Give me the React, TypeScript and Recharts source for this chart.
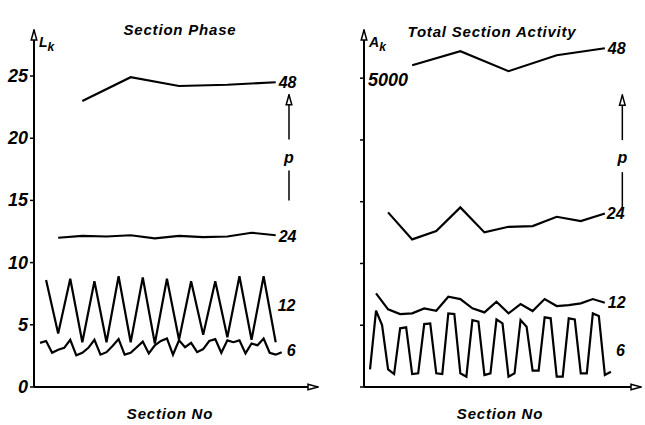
import React from "react";
import { LineChart, Line, XAxis, YAxis, ReferenceLine, ReferenceDot } from "recharts";

// section numbers at which each curve is sampled
const sections48 = [8, 16, 24, 32, 40];
const sections24 = [4, 8, 12, 16, 20, 24, 28, 32, 36, 40];
const sections12 = [2, 4, 6, 8, 10, 12, 14, 16, 18, 20, 22, 24, 26, 28, 30, 32, 34, 36, 38, 40];
const sections6 = [
  1, 2, 3, 4, 5, 6, 7, 8, 9, 10, 11, 12, 13, 14, 15, 16, 17, 18, 19, 20, 21,
  22, 23, 24, 25, 26, 27, 28, 29, 30, 31, 32, 33, 34, 35, 36, 37, 38, 39, 40, 41,
];

// Section Phase L_k
const phase48 = [23.0, 24.9, 24.2, 24.3, 24.5];
const phase24 = [12.0, 12.15, 12.1, 12.2, 11.95, 12.15, 12.05, 12.1, 12.4, 12.2];
const phase12 = [8.6, 4.3, 8.7, 3.6, 8.5, 3.6, 8.9, 3.6, 8.8, 3.5, 8.7, 3.8, 8.5, 4.2, 8.5, 4.0, 8.9, 3.8, 8.9, 3.6];
const phase6 = [
  3.55, 3.7, 2.75, 3.0, 3.15, 3.8, 2.55, 2.75, 3.15, 3.8, 2.6, 2.8, 3.3, 3.85, 2.6, 2.75, 3.2, 3.65, 2.7, 3.35, 3.7,
  3.9, 2.6, 3.75, 3.2, 3.55, 2.8, 3.05, 3.7, 3.85, 2.75, 3.75, 3.6, 3.75, 2.7, 3.5, 3.35, 3.9, 2.75, 2.6, 2.8,
];

// Total Section Activity A_k
const activity48 = [5210, 5437, 5113, 5372, 5485];
const activity24 = [2827, 2390, 2524, 2908, 2503, 2594, 2605, 2756, 2686, 2810];
const activity12 = [1516, 1257, 1181, 1192, 1273, 1235, 1461, 1424, 1273, 1208, 1380, 1192, 1343, 1230, 1424, 1311, 1327, 1354, 1424, 1364];
const activity6 = [
  286, 1235, 1003, 286, 210, 950, 966, 210, 222, 1019, 1030, 222, 210, 1192, 1181, 222, 167, 1084, 1057, 194, 222,
  1095, 1030, 167, 222, 1084, 976, 264, 264, 1128, 1112, 167, 167, 1112, 1095, 222, 222, 1192, 1149, 194, 248,
];

const phaseTicks = [0, 5, 10, 15, 20, 25];
const activityTicks = [0, 1000, 2000, 3000, 4000, 5000];

const FONT = "'Liberation Sans', Arial, sans-serif";

const toPoints = (xs: number[], ys: number[]) => xs.map((x, i) => ({ section: x, value: ys[i] }));

type Series = { name: string; data: { section: number; value: number }[]; dx: number; dy: number };

const endLabel = (s: Series) => (props: any) => {
  const { x, y, index } = props;
  if (index !== s.data.length - 1) return null;
  return (
    <text
      x={x + s.dx}
      y={y + s.dy}
      fontFamily={FONT}
      fontStyle="italic"
      fontWeight="bold"
      fontSize={16}
      fill="#000"
      dominantBaseline="central"
    >
      {s.name}
    </text>
  );
};

type PanelProps = {
  id: string;
  left: number;
  width: number;
  plotWidth: number;
  yAxisWidth: number;
  xMax: number;
  yMax: number;
  ticks: number[];
  tick: any;
  letter: string;
  series: Series[];
  pX: number;
  pArrow: [number, number];
  pText: number;
  pLine: [number, number];
};

const Panel = (p: PanelProps) => (
  <div style={{ position: "absolute", left: p.left, top: 0 }}>
    <LineChart width={p.width} height={425} margin={{ top: 30, right: p.width - p.yAxisWidth - p.plotWidth, left: 0, bottom: 36 }}>
      <defs>
        <marker
          id={`arr-${p.id}`}
          viewBox="0 0 12 8"
          refX="11"
          refY="4"
          markerWidth="12"
          markerHeight="8"
          markerUnits="userSpaceOnUse"
          orient="auto-start-reverse"
        >
          <path d="M1,1.2 L11,4 L1,6.8 Z" fill="#fff" stroke="#000" strokeWidth={1.5} />
        </marker>
      </defs>
      <XAxis
        dataKey="section"
        type="number"
        domain={[0, p.xMax]}
        allowDataOverflow
        tick={false}
        tickLine={false}
        height={2}
        axisLine={{ stroke: "#000", strokeWidth: 2, markerEnd: `url(#arr-${p.id})` }}
      />
      <YAxis
        type="number"
        domain={[0, p.yMax]}
        allowDataOverflow
        ticks={p.ticks}
        interval={0}
        width={p.yAxisWidth}
        tickSize={4}
        tickMargin={2}
        tick={p.tick}
        tickLine={{ stroke: "#000", strokeWidth: 1.5 }}
        axisLine={{ stroke: "#000", strokeWidth: 2, markerStart: `url(#arr-${p.id})` }}
        label={{
          content: (lp: any) => {
            const vb = lp.viewBox;
            return (
              <text x={vb.x + vb.width + 5} y={vb.y + 17} fontFamily={FONT} fontStyle="italic" fontWeight="bold" fontSize={14}>
                {p.letter}
                <tspan dy={4} fontSize={12}>k</tspan>
              </text>
            );
          },
        }}
      />
      {p.series.map((s) => (
        <Line
          key={s.name}
          data={s.data}
          dataKey="value"
          type="linear"
          stroke="#000"
          strokeWidth={2.2}
          dot={false}
          isAnimationActive={false}
          label={endLabel(s)}
        />
      ))}
      <ReferenceLine
        segment={[{ x: p.pX, y: p.pArrow[1] }, { x: p.pX, y: p.pArrow[0] }]}
        stroke="#000"
        strokeWidth={1.5}
        markerEnd={`url(#arr-${p.id})`}
      />
      <ReferenceLine segment={[{ x: p.pX, y: p.pLine[0] }, { x: p.pX, y: p.pLine[1] }]} stroke="#000" strokeWidth={1.5} />
      <ReferenceDot
        x={p.pX}
        y={p.pText}
        r={0}
        fill="none"
        stroke="none"
        label={{ value: "p", position: "center", fontFamily: FONT, fontStyle: "italic", fontWeight: "bold", fontSize: 16, fill: "#000" }}
      />
    </LineChart>
  </div>
);

const phaseTick = (props: any) => {
  const { x, y, payload } = props;
  return (
    <text x={x} y={y} textAnchor="end" dominantBaseline="central" fontFamily={FONT} fontStyle="italic" fontWeight="bold" fontSize={18} fill="#000">
      {payload.value}
    </text>
  );
};

const activityTick = (props: any) => {
  const { x, y, payload } = props;
  if (payload.value !== 5000) return <g />;
  return (
    <text x={x + 10} y={y + 2} textAnchor="start" dominantBaseline="central" fontFamily={FONT} fontStyle="italic" fontWeight="bold" fontSize={18} fill="#000">
      {payload.value}
    </text>
  );
};

const textStyle: React.CSSProperties = {
  position: "absolute",
  fontFamily: FONT,
  fontStyle: "italic",
  fontWeight: "bold",
  fontSize: 15,
  letterSpacing: 0.8,
  lineHeight: "18px",
  transform: "translateX(-50%)",
  whiteSpace: "nowrap",
};

export default function App() {
  const phaseSeries: Series[] = [
    { name: "48", data: toPoints(sections48, phase48), dx: 3, dy: 0 },
    { name: "24", data: toPoints(sections24, phase24), dx: 3, dy: 1 },
    { name: "12", data: toPoints(sections12, phase12), dx: 2, dy: -37 },
    { name: "6", data: toPoints(sections6, phase6), dx: 5, dy: -2 },
  ];
  const activitySeries: Series[] = [
    { name: "48", data: toPoints(sections48, activity48), dx: 3, dy: 0 },
    { name: "24", data: toPoints(sections24, activity24), dx: 2, dy: 0 },
    { name: "12", data: toPoints(sections12, activity12), dx: 3, dy: 0 },
    { name: "6", data: toPoints(sections6, activity6), dx: 5, dy: -21 },
  ];
  return (
    <div style={{ position: "absolute", left: 0, top: 0, width: 645, height: 425, background: "#fff" }}>
      <Panel
        id="l"
        left={0}
        width={320}
        plotWidth={284}
        yAxisWidth={34}
        xMax={47}
        yMax={28.7}
        ticks={phaseTicks}
        tick={phaseTick}
        letter="L"
        series={phaseSeries}
        pX={42.2}
        pArrow={[23.5, 19.9]}
        pText={18.5}
        pLine={[17.4, 15.0]}
      />
      <Panel
        id="r"
        left={320}
        width={325}
        plotWidth={277}
        yAxisWidth={44}
        xMax={46}
        yMax={5780}
        ticks={activityTicks}
        tick={activityTick}
        letter="A"
        series={activitySeries}
        pX={42.9}
        pArrow={[4725, 3997]}
        pText={3722}
        pLine={[3479, 2864]}
      />
      <div style={{ ...textStyle, left: 180, top: 21 }}>Section Phase</div>
      <div style={{ ...textStyle, left: 492, top: 23 }}>Total Section Activity</div>
      <div style={{ ...textStyle, left: 170, top: 405 }}>Section No</div>
      <div style={{ ...textStyle, left: 500, top: 405 }}>Section No</div>
    </div>
  );
}
